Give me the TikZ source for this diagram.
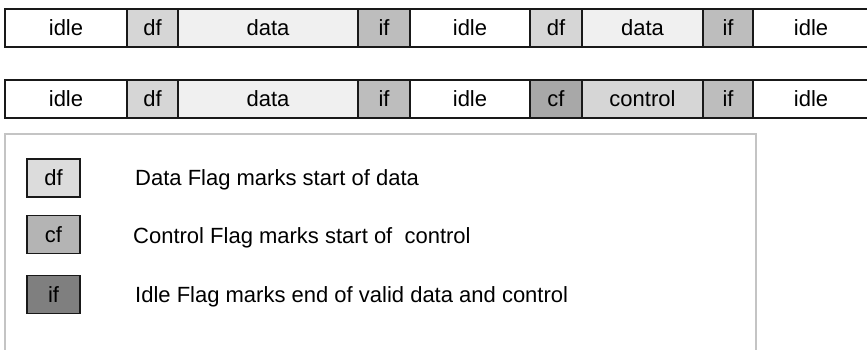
\documentclass[tikz,border=0pt]{standalone}
\usepackage{fontspec}
\setmainfont{Liberation Sans}
\usepackage{tikz}

\begin{document}
\begin{tikzpicture}[x=1pt,y=-1pt,cell/.style={
      draw=black!90,
      line width=1.7pt,
      minimum height=38pt,
      inner sep=0pt,
      font=\fontsize{22}{24}\selectfont
    }]


\definecolor{idlefill}{RGB}{255,255,255}
\definecolor{dffill}{RGB}{214,214,214}
\definecolor{datafill}{RGB}{240,240,240}
\definecolor{iffill}{RGB}{189,189,189}
\definecolor{cffill}{RGB}{168,168,168}
\definecolor{ctrlfill}{RGB}{214,214,214}
\definecolor{keydf}{RGB}{220,220,220}
\definecolor{keycf}{RGB}{180,180,180}
\definecolor{keyif}{RGB}{127,127,127}
\definecolor{boxgray}{RGB}{196,196,196}

\clip (0,0) rectangle (867,349);

% first stream: two data frames
\node[cell,fill=idlefill,minimum width=122pt] (ia1) at (66,28) {idle};
\node[cell,fill=dffill,minimum width=51pt] (da1) at (152.5,28) {df};
\node[cell,fill=datafill,minimum width=180pt] (pa1) at (268,28) {data};
\node[cell,fill=iffill,minimum width=52pt] (fa1) at (384,28) {if};
\node[cell,fill=idlefill,minimum width=120pt] (ia2) at (470,28) {idle};
\node[cell,fill=dffill,minimum width=52pt] (da2) at (556,28) {df};
\node[cell,fill=datafill,minimum width=121pt] (pa2) at (642.5,28) {data};
\node[cell,fill=iffill,minimum width=50pt] (fa2) at (728,28) {if};
\node[cell,fill=idlefill,minimum width=116pt] (ia3) at (811,28) {idle};

% second stream: data then control
\node[cell,fill=idlefill,minimum width=122pt] (ib1) at (66,99) {idle};
\node[cell,fill=dffill,minimum width=51pt] (db1) at (152.5,99) {df};
\node[cell,fill=datafill,minimum width=180pt] (pb1) at (268,99) {data};
\node[cell,fill=iffill,minimum width=52pt] (fb1) at (384,99) {if};
\node[cell,fill=idlefill,minimum width=120pt] (ib2) at (470,99) {idle};
\node[cell,fill=cffill,minimum width=52pt] (cb2) at (556,99) {cf};
\node[cell,fill=ctrlfill,minimum width=121pt] (pb2) at (642.5,99) {control};
\node[cell,fill=iffill,minimum width=50pt] (fb2) at (728,99) {if};
\node[cell,fill=idlefill,minimum width=116pt] (ib3) at (811,99) {idle};

% legend
\draw[boxgray,line width=1.6pt] (5,360) -- (5,134) -- (756,134) -- (756,360);

\node[cell,fill=keydf,minimum width=53pt] (kdf) at (53.5,178) {df};
\node[cell,fill=keycf,minimum width=53pt] (kcf) at (53.5,234.5) {cf};
\node[cell,fill=keyif,minimum width=53pt] (kif) at (53.5,294.5) {if};

\node[anchor=west,inner sep=0pt,font=\fontsize{22}{24}\selectfont] (tdf) at (135,180) {Data Flag marks start of data};
\node[anchor=west,inner sep=0pt,font=\fontsize{22}{24}\selectfont] (tcf) at (133,238) {Control Flag marks start of\ \ control};
\node[anchor=west,inner sep=0pt,font=\fontsize{22}{24}\selectfont] (tif) at (135,297) {Idle Flag marks end of valid data and control};


\end{tikzpicture}
\end{document}
